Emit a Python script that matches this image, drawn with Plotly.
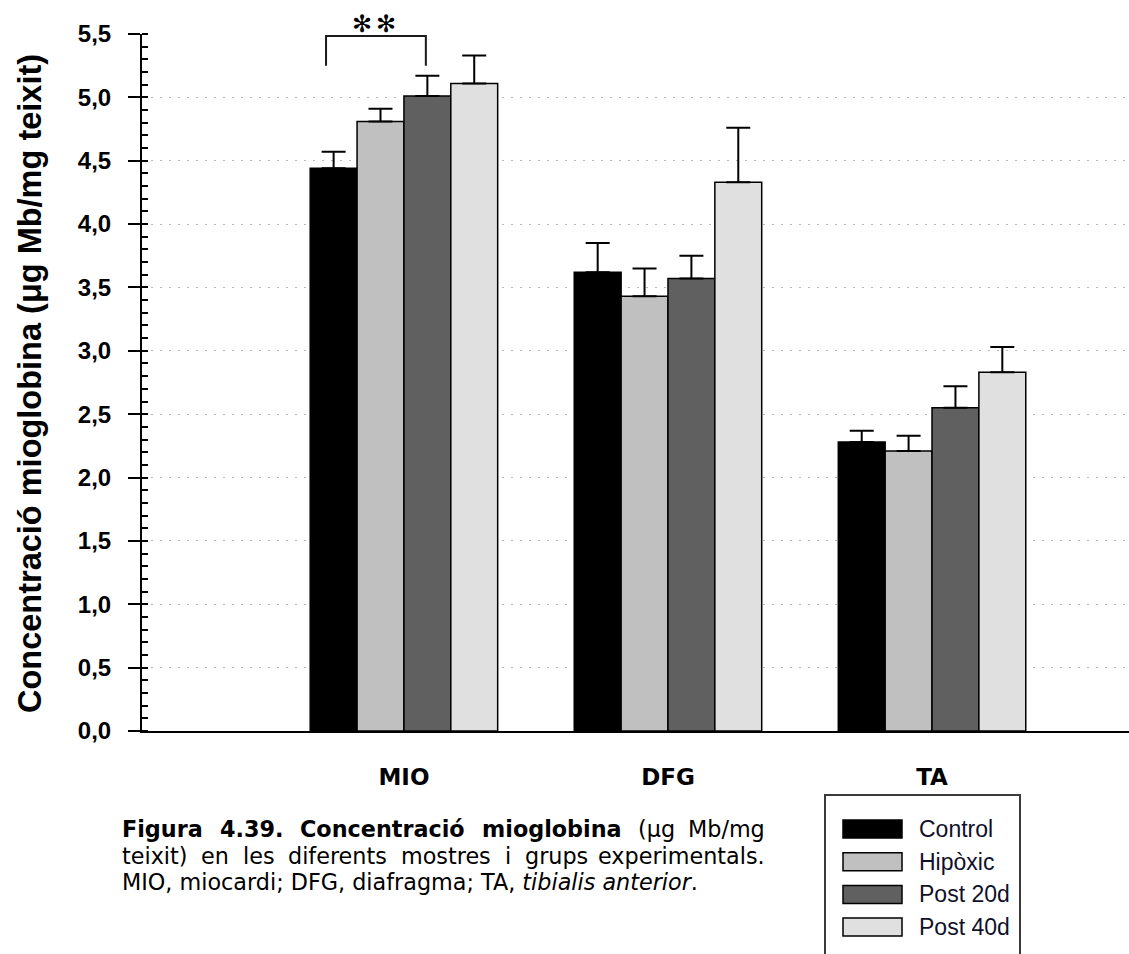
import plotly.graph_objects as go

# Muscle groups and experimental series
groups = ["MIO", "DFG", "TA"]
series = ["Control", "Hipòxic", "Post 20d", "Post 40d"]
colors = ["#000000", "#c0c0c0", "#606060", "#e0e0e0"]

# Mean myoglobin concentration (µg Mb / mg tissue) and SEM
control = [4.44, 3.62, 2.28]
hipoxic = [4.81, 3.43, 2.21]
post20 = [5.01, 3.57, 2.55]
post40 = [5.11, 4.33, 2.83]
control_err = [0.13, 0.23, 0.09]
hipoxic_err = [0.10, 0.22, 0.12]
post20_err = [0.16, 0.18, 0.17]
post40_err = [0.22, 0.43, 0.20]

values = [control, hipoxic, post20, post40]
errors = [control_err, hipoxic_err, post20_err, post40_err]

y_ticks = [0.0, 0.5, 1.0, 1.5, 2.0, 2.5, 3.0, 3.5, 4.0, 4.5, 5.0, 5.5]

W, H = 1129, 954
ML, MR, MT, MB = 142, 0, 34, 223
PW, PH = W - ML - MR, H - MT - MB


def px(x):
    return (x - ML) / PW


def py(y):
    return (H - MB - y) / PH


fig = go.Figure()
xs = list(range(len(groups)))
for name, col, vals, errs in zip(series, colors, values, errors):
    fig.add_trace(go.Bar(
        x=xs, y=vals, name=name,
        marker=dict(color=col, line=dict(color="#000000", width=1.5)),
        error_y=dict(type="data", symmetric=False, array=errs,
                     arrayminus=[0] * len(errs), color="#000000",
                     thickness=2, width=12),
        showlegend=False,
    ))

fig.update_layout(
    width=W, height=H,
    margin=dict(l=ML, r=MR, t=MT, b=MB, pad=0),
    plot_bgcolor="white", paper_bgcolor="white",
    barmode="group", bargap=0.29, bargroupgap=0,
    separators=",.",
    font=dict(family="Liberation Sans", color="#000000"),
)

fig.update_xaxes(
    range=[-0.992, 2.746], tickvals=xs, ticktext=groups,
    showline=True, linecolor="#000000", linewidth=2,
    ticks="", showgrid=False, zeroline=False,
    tickfont=dict(family="DejaVu Sans", size=23, color="#000000", weight="bold"),
    ticklabelstandoff=24,
)

fig.update_yaxes(
    range=[0, 5.5], tickvals=y_ticks, tickformat=".1f",
    showline=True, linecolor="#000000", linewidth=2,
    ticks="outside", ticklen=12, tickwidth=2, tickcolor="#000000",
    tickfont=dict(family="Liberation Sans", size=24, color="#000000", weight="bold"),
    ticklabelstandoff=12,
    showgrid=True, gridcolor="#b8b8b8", gridwidth=1, griddash="2px,7px",
    zeroline=False,
    minor=dict(dtick=0.1, ticks="inside", ticklen=6, tickwidth=1.5,
               tickcolor="#000000", showgrid=False),
)

# Significance bracket between Control and Post 20d in MIO
fig.add_shape(type="path",
              path="M -0.295,5.25 L -0.295,5.485 L 0.083,5.485 L 0.083,5.25",
              xref="x", yref="y", line=dict(color="#1a1a1a", width=2))
for xa in (361.5, 385.5):
    fig.add_annotation(x=px(xa), y=py(24.5), xref="paper", yref="paper", text="✻",
                       showarrow=False, xanchor="center", yanchor="middle",
                       font=dict(family="DejaVu Sans", size=24, color="#000000"))

# Y axis title
fig.add_annotation(x=px(30), y=py(384), xref="paper", yref="paper",
                   text="<b>Concentració mioglobina (μg Mb/mg teixit)</b>",
                   textangle=-90, showarrow=False, xanchor="center", yanchor="middle",
                   font=dict(family="Liberation Sans", size=32.5, color="#000000"))

# Legend box
fig.add_shape(type="rect", xref="paper", yref="paper",
              x0=px(825), x1=px(1020), y0=py(962), y1=py(795),
              line=dict(color="#3a3a3a", width=2), fillcolor="white")
for i, (name, col) in enumerate(zip(series, colors)):
    cy = 829 + i * 32.7
    fig.add_shape(type="rect", xref="paper", yref="paper",
                  x0=px(843), x1=px(902), y0=py(cy + 9), y1=py(cy - 9),
                  line=dict(color="#000000", width=1.5), fillcolor=col)
    fig.add_annotation(x=px(917), y=py(cy), xref="paper", yref="paper",
                       text=name, showarrow=False, xanchor="left", yanchor="middle",
                       font=dict(family="Liberation Sans", size=23, color="#10102a"))

# Figure caption. Approximate DejaVu Sans advance widths (em) are used to
# justify the first two lines; the last line is set flush left.
REG = {" ": .318, "(": .390, ")": .390, ".": .318, ",": .318, ";": .337, "/": .337,
       "a": .613, "b": .635, "c": .550, "d": .635, "e": .615, "f": .352, "g": .635,
       "i": .278, "l": .278, "m": .974, "n": .634, "o": .612, "p": .635, "r": .411,
       "s": .521, "t": .392, "u": .634, "x": .592, "M": .863, "μ": .636}
BOLD = {".": .380, "a": .675, "b": .716, "c": .593, "e": .678, "g": .716, "i": .343,
        "l": .343, "m": 1.042, "n": .712, "o": .687, "ó": .687, "r": .493, "t": .478,
        "u": .712, "C": .734, "F": .683, "3": .696, "4": .696, "9": .696}

CAP_SIZE = 22.3
cap_font = dict(family="DejaVu Sans", size=CAP_SIZE, color="#000000")
cap_left, cap_right = 120, 767
line_y = [829, 855.5, 882]

justified = [
    [("Figura", True), ("4.39.", True), ("Concentració", True), ("mioglobina", True),
     ("(μg", False), ("Mb/mg", False)],
    [("teixit)", False), ("en", False), ("les", False), ("diferents", False),
     ("mostres", False), ("i", False), ("grups", False), ("experimentals.", False)],
]


def word_width(word, bold):
    table = BOLD if bold else REG
    return sum(table.get(ch, .62) for ch in word) * CAP_SIZE


for row, words in enumerate(justified):
    widths = [word_width(w, b) for w, b in words]
    gap = (cap_right - cap_left - sum(widths)) / (len(words) - 1)
    x = cap_left
    for (word, bold), wd in zip(words, widths):
        last = word == words[-1][0]
        fig.add_annotation(x=px(cap_right if last else x), y=py(line_y[row]),
                           xref="paper", yref="paper",
                           text=f"<b>{word}</b>" if bold else word, showarrow=False,
                           xanchor="right" if last else "left", yanchor="middle",
                           font=cap_font)
        x += wd + gap

fig.add_annotation(x=px(cap_left), y=py(line_y[2]), xref="paper", yref="paper",
                   text="MIO, miocardi; DFG, diafragma; TA, <i>tibialis anterior</i>.",
                   showarrow=False, xanchor="left", yanchor="middle", font=cap_font)

fig.write_html("out.html")
